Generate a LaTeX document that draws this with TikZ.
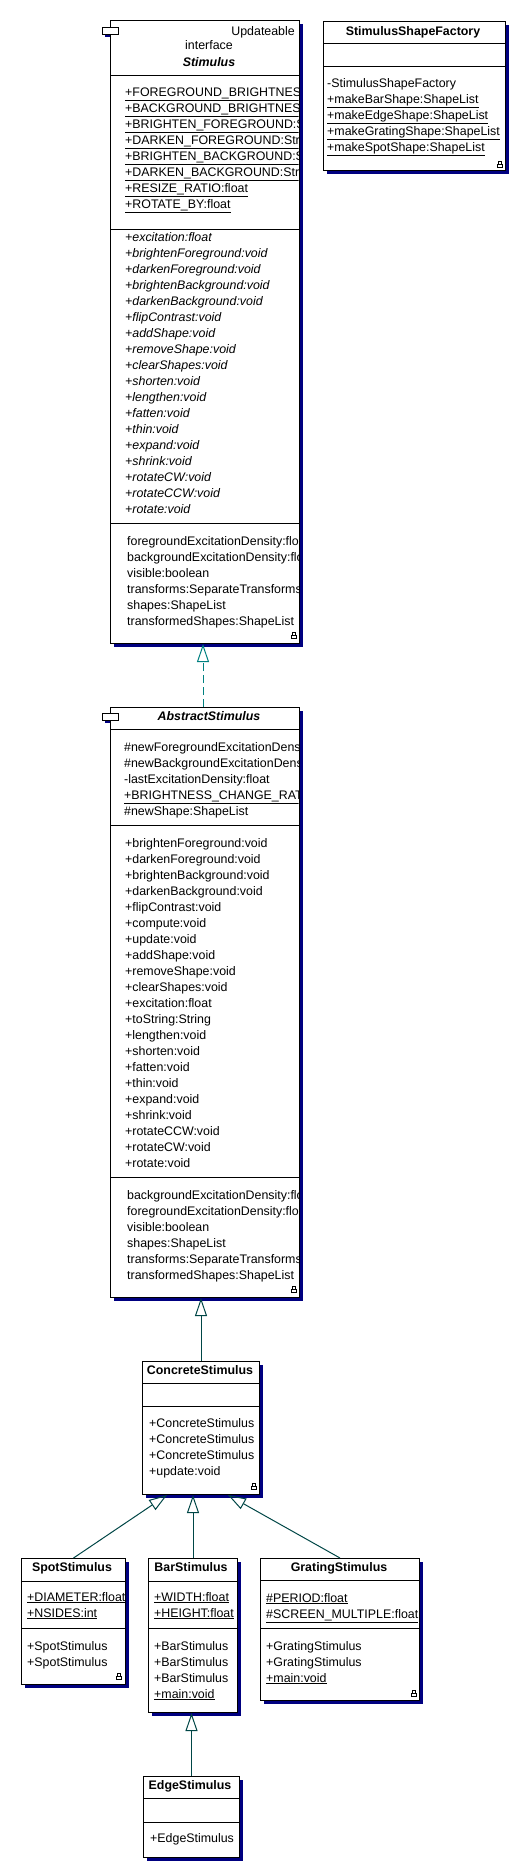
\documentclass[tikz,border=0pt]{standalone}
\usepackage{fontspec}
\setmainfont{Liberation Sans}
\usetikzlibrary{arrows.meta,shadows}

\definecolor{umlshadow}{RGB}{0,0,128}
\definecolor{umlline}{RGB}{0,70,70}
\definecolor{umldash}{RGB}{0,128,128}

\tikzset{
  classbox/.style={draw=black, fill=white, line width=1pt, inner sep=0pt, anchor=north west,
    drop shadow={shadow xshift=3pt, shadow yshift=-3pt, fill=umlshadow, opacity=1}},
  member/.style={anchor=base west, inner sep=0pt},
  classname/.style={anchor=base, inner sep=0pt, font=\bfseries},
  tabbox/.style={draw=black, fill=white, line width=1pt},
  extends/.style={draw=umlline, line width=1pt, -{Triangle[open, width=12pt, length=18pt]}},
  realizes/.style={draw=umldash, line width=1pt, dash pattern=on 8pt off 4pt,
    -{Triangle[open, width=12pt, length=18pt]}},
  padlock/.pic={
    \draw[line width=0.8pt] (-1.5,0) -- (-1.5,-2.5) -- (1.5,-2.5) -- (1.5,0);
    \draw[line width=0.8pt, fill=white] (-2.5,0) rectangle (2.5,3.5);
  }
}

\begin{document}
\fontsize{12.4}{14}\selectfont
\begin{tikzpicture}[x=1pt, y=-1pt]
  \useasboundingbox (0,0) rectangle (520,1871);

  % 1. interface Stimulus
  \fill[umlshadow] (105,30) rectangle (121,37);
  \node[classbox, minimum width=189pt, minimum height=623pt] (stimulus) at (110,20) {};
  \draw[tabbox] (102,27) rectangle (118,34);
  \node[anchor=base east, inner sep=0pt] (stimupd) at (295,35) {Updateable};
  \node[anchor=base, inner sep=0pt] (stimifc) at (209,49) {interface};
  \node[classname, font=\bfseries\itshape] (stimname) at (209,66) {Stimulus};
  \draw (stimulus.west |- 0,75) -- (stimulus.east |- 0,75);
  \draw (stimulus.west |- 0,229) -- (stimulus.east |- 0,229);
  \draw (stimulus.west |- 0,523) -- (stimulus.east |- 0,523);
  \begin{scope}
    \clip (stimulus.north west) rectangle ([xshift=-1.5pt]stimulus.south east);
    \foreach \txt [count=\i from 0] in {\underline{+FOREGROUND\_BRIGHTNESS:float},
        \underline{+BACKGROUND\_BRIGHTNESS:float}, \underline{+BRIGHTEN\_FOREGROUND:String},
        \underline{+DARKEN\_FOREGROUND:String}, \underline{+BRIGHTEN\_BACKGROUND:String},
        \underline{+DARKEN\_BACKGROUND:String}, \underline{+RESIZE\_RATIO:float},
        \underline{+ROTATE\_BY:float}}
      \node[member] (stimattr\i) at (125, 96+16*\i) {\txt};
    \foreach \txt [count=\i from 0] in {+excitation:float, +brightenForeground:void,
        +darkenForeground:void, +brightenBackground:void, +darkenBackground:void,
        +flipContrast:void, +addShape:void, +removeShape:void, +clearShapes:void,
        +shorten:void, +lengthen:void, +fatten:void, +thin:void, +expand:void,
        +shrink:void, +rotateCW:void, +rotateCCW:void, +rotate:void}
      \node[member, font=\itshape] (stimop\i) at (125, 241+16*\i) {\txt};
    \foreach \txt [count=\i from 0] in {foregroundExcitationDensity:float,
        backgroundExcitationDensity:float, visible:boolean, transforms:SeparateTransforms,
        shapes:ShapeList, transformedShapes:ShapeList}
      \node[member] (stimprop\i) at (127, 545+16*\i) {\txt};
  \end{scope}
  \pic at (294,635) {padlock};

  % 2. StimulusShapeFactory
  \node[classbox, minimum width=182pt, minimum height=149pt] (factory) at (323,21) {};
  \node[classname] (factoryname) at (413,35) {StimulusShapeFactory};
  \draw (factory.west |- 0,43) -- (factory.east |- 0,43);
  \draw (factory.west |- 0,66) -- (factory.east |- 0,66);
  \foreach \txt [count=\i from 0] in {-StimulusShapeFactory, \underline{+makeBarShape:ShapeList},
      \underline{+makeEdgeShape:ShapeList}, \underline{+makeGratingShape:ShapeList},
      \underline{+makeSpotShape:ShapeList}}
    \node[member] (factoryop\i) at (327, 87+16*\i) {\txt};
  \pic at (500,164) {padlock};

  % 3. AbstractStimulus
  \fill[umlshadow] (105,716) rectangle (121,723);
  \node[classbox, minimum width=189pt, minimum height=590pt] (abstract) at (110,707) {};
  \draw[tabbox] (102,713) rectangle (118,720);
  \node[classname, font=\bfseries\itshape] (abstractname) at (209,720) {AbstractStimulus};
  \draw (abstract.west |- 0,729) -- (abstract.east |- 0,729);
  \draw (abstract.west |- 0,825) -- (abstract.east |- 0,825);
  \draw (abstract.west |- 0,1177) -- (abstract.east |- 0,1177);
  \begin{scope}
    \clip (abstract.north west) rectangle ([xshift=-1.5pt]abstract.south east);
    \foreach \txt [count=\i from 0] in {\#newForegroundExcitationDensity:float,
        \#newBackgroundExcitationDensity:float, -lastExcitationDensity:float,
        \underline{+BRIGHTNESS\_CHANGE\_RATE:float}, \#newShape:ShapeList}
      \node[member] (absattr\i) at (124, 751+16*\i) {\txt};
    \foreach \txt [count=\i from 0] in {+brightenForeground:void, +darkenForeground:void,
        +brightenBackground:void, +darkenBackground:void, +flipContrast:void,
        +compute:void, +update:void, +addShape:void, +removeShape:void,
        +clearShapes:void, +excitation:float, +toString:String, +lengthen:void,
        +shorten:void, +fatten:void, +thin:void, +expand:void, +shrink:void,
        +rotateCCW:void, +rotateCW:void, +rotate:void}
      \node[member] (absop\i) at (125, 847+16*\i) {\txt};
    \foreach \txt [count=\i from 0] in {backgroundExcitationDensity:float,
        foregroundExcitationDensity:float, visible:boolean, shapes:ShapeList,
        transforms:SeparateTransforms, transformedShapes:ShapeList}
      \node[member] (absprop\i) at (127, 1199+16*\i) {\txt};
  \end{scope}
  \pic at (294,1289) {padlock};

  % 4. ConcreteStimulus
  \node[classbox, minimum width=117pt, minimum height=133pt] (concrete) at (142,1361) {};
  \node[classname] (concretename) at (200,1374) {ConcreteStimulus};
  \draw (concrete.west |- 0,1383) -- (concrete.east |- 0,1383);
  \draw (concrete.west |- 0,1406) -- (concrete.east |- 0,1406);
  \foreach \txt [count=\i from 0] in {+ConcreteStimulus, +ConcreteStimulus,
      +ConcreteStimulus, +update:void}
    \node[member] (concreteop\i) at (149, 1427+16*\i) {\txt};
  \pic at (254,1486) {padlock};

  % 5. subclasses
  \node[classbox, minimum width=104pt, minimum height=126pt] (spot) at (21,1558) {};
  \node[classname] (spotname) at (72,1571) {SpotStimulus};
  \draw (spot.west |- 0,1581) -- (spot.east |- 0,1581);
  \draw (spot.west |- 0,1628) -- (spot.east |- 0,1628);
  \node[member] (spotattr0) at (27,1601) {\underline{+DIAMETER:float}};
  \node[member] (spotattr1) at (27,1617) {\underline{+NSIDES:int}};
  \node[member] (spotop0) at (27,1650) {+SpotStimulus};
  \node[member] (spotop1) at (27,1666) {+SpotStimulus};
  \pic at (119,1676) {padlock};

  \node[classbox, minimum width=89pt, minimum height=154pt] (bar) at (148,1558) {};
  \node[classname] (barname) at (191,1571) {BarStimulus};
  \draw (bar.west |- 0,1581) -- (bar.east |- 0,1581);
  \draw (bar.west |- 0,1628) -- (bar.east |- 0,1628);
  \node[member] (barattr0) at (154,1601) {\underline{+WIDTH:float}};
  \node[member] (barattr1) at (154,1617) {\underline{+HEIGHT:float}};
  \foreach \txt [count=\i from 0] in {+BarStimulus, +BarStimulus, +BarStimulus,
      \underline{+main:void}}
    \node[member] (barop\i) at (154, 1650+16*\i) {\txt};

  \node[classbox, minimum width=159pt, minimum height=142pt] (grating) at (260,1558) {};
  \node[classname] (gratingname) at (339,1571) {GratingStimulus};
  \draw (grating.west |- 0,1580) -- (grating.east |- 0,1580);
  \draw (grating.west |- 0,1628) -- (grating.east |- 0,1628);
  \node[member] (gratingattr0) at (266,1602) {\underline{\#PERIOD:float}};
  \node[member] (gratingattr1) at (266,1618) {\underline{\#SCREEN\_MULTIPLE:float}};
  \foreach \txt [count=\i from 0] in {+GratingStimulus, +GratingStimulus,
      \underline{+main:void}}
    \node[member] (gratingop\i) at (266, 1650+16*\i) {\txt};
  \pic at (414,1693) {padlock};

  \node[classbox, minimum width=96pt, minimum height=81pt] (edge) at (143,1776) {};
  \node[classname] (edgename) at (190,1789) {EdgeStimulus};
  \draw (edge.west |- 0,1798) -- (edge.east |- 0,1798);
  \draw (edge.west |- 0,1822) -- (edge.east |- 0,1822);
  \node[member] (edgeop0) at (150,1842) {+EdgeStimulus};

  % 6. realization and generalization
  \draw[realizes] ([xshift=-2pt]abstract.north) -- ([xshift=-2pt]stimulus.south);
  \draw[extends] (concrete.north) -- (concrete.north |- abstract.south);
  \draw[extends] (spot.north) -- ([xshift=-34pt]concrete.south);
  \draw[extends] (bar.north) -- (bar.north |- concrete.south);
  \draw[extends] (grating.north) -- ([xshift=27pt]concrete.south);
  \draw[extends] (edge.north) -- (edge.north |- bar.south);
\end{tikzpicture}
\end{document}
